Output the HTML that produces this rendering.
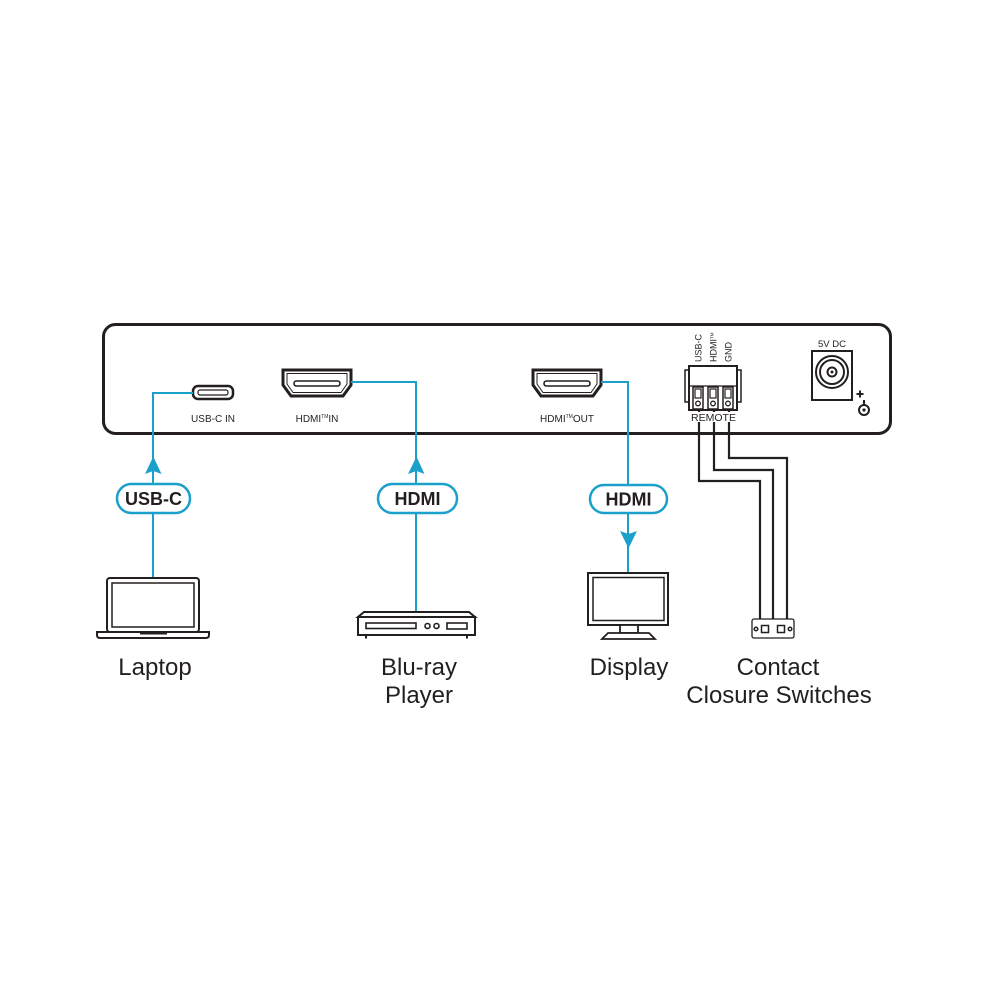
<!DOCTYPE html>
<html>
<head>
<meta charset="utf-8">
<style>
  html,body{margin:0;padding:0;background:#fff;}
  svg{display:block;}
  text{font-family:"Liberation Sans",Arial,sans-serif;}
</style>
</head>
<body>
<svg width="1000" height="1000" viewBox="0 0 1000 1000" xmlns="http://www.w3.org/2000/svg">
  <rect width="1000" height="1000" fill="#fff"/>

  <!-- Device box -->
  <rect x="103.5" y="324.5" width="787" height="109" rx="12" fill="#fff" stroke="#231f20" stroke-width="3"/>

  <!-- Contact closure wires -->
  <g fill="none" stroke="#231f20" stroke-width="2.2">
    <polyline points="699,408 699,481 760,481 760,620"/>
    <polyline points="714,408 714,470 773,470 773,620"/>
    <polyline points="729,408 729,458 787,458 787,620"/>
  </g>

  <!-- USB-C port -->
  <rect x="193" y="386" width="40" height="13" rx="5" fill="#fff" stroke="#231f20" stroke-width="2.5"/>
  <rect x="198" y="390" width="30" height="5" rx="2" fill="none" stroke="#231f20" stroke-width="1.2"/>
  <text x="213" y="422" font-size="10" text-anchor="middle" fill="#231f20">USB-C IN</text>

  <!-- HDMI IN -->
  <g fill="none" stroke="#231f20">
    <path d="M283,370 H351 V385 L343,396 H291 L283,385 Z" stroke-width="3"/>
    <path d="M287,373.5 H347 V384 L341,392.5 H293 L287,384 Z" stroke-width="1"/>
    <rect x="294" y="381" width="46" height="5" rx="2.5" stroke-width="1.6"/>
  </g>
  <text x="317" y="422" font-size="10" text-anchor="middle" fill="#231f20">HDMI<tspan font-size="5" dy="-4">TM</tspan><tspan dy="4">IN</tspan></text>

  <!-- HDMI OUT -->
  <g fill="none" stroke="#231f20" transform="translate(250,0)">
    <path d="M283,370 H351 V385 L343,396 H291 L283,385 Z" stroke-width="3"/>
    <path d="M287,373.5 H347 V384 L341,392.5 H293 L287,384 Z" stroke-width="1"/>
    <rect x="294" y="381" width="46" height="5" rx="2.5" stroke-width="1.6"/>
  </g>
  <text x="567" y="422" font-size="10" text-anchor="middle" fill="#231f20">HDMI<tspan font-size="5" dy="-4">TM</tspan><tspan dy="4">OUT</tspan></text>

  <!-- Terminal block -->
  <g stroke="#231f20" fill="#fff">
    <rect x="685" y="370" width="5" height="32" stroke-width="1.5"/>
    <rect x="736" y="370" width="5" height="32" stroke-width="1.5"/>
    <rect x="689" y="366" width="48" height="44" stroke-width="2"/>
    <line x1="689" y1="386" x2="737" y2="386" stroke-width="1.2"/>
    <rect x="693" y="387" width="10" height="22" stroke-width="1.5"/>
    <rect x="708" y="387" width="10" height="22" stroke-width="1.5"/>
    <rect x="723" y="387" width="10" height="22" stroke-width="1.5"/>
    <rect x="695" y="389" width="6" height="9" stroke-width="1.2"/>
    <rect x="710" y="389" width="6" height="9" stroke-width="1.2"/>
    <rect x="725" y="389" width="6" height="9" stroke-width="1.2"/>
    <circle cx="698" cy="403.5" r="2.3" stroke-width="1.3"/>
    <circle cx="713" cy="403.5" r="2.3" stroke-width="1.3"/>
    <circle cx="728" cy="403.5" r="2.3" stroke-width="1.3"/>
  </g>
  <g font-size="9" fill="#231f20">
    <text transform="translate(701.5,362) rotate(-90)">USB-C</text>
    <text transform="translate(716.5,362) rotate(-90)">HDMI<tspan font-size="4.5" dy="-3">TM</tspan></text>
    <text transform="translate(731.5,362) rotate(-90)">GND</text>
  </g>
  <rect x="692" y="412" width="44" height="10" fill="#fff"/>
  <text x="713.5" y="421" font-size="10.5" text-anchor="middle" fill="#231f20">REMOTE</text>

  <!-- Power jack -->
  <text x="832" y="347" font-size="9.5" text-anchor="middle" fill="#231f20">5V DC</text>
  <rect x="812" y="351" width="40" height="49" fill="#fff" stroke="#231f20" stroke-width="2"/>
  <g fill="none" stroke="#231f20" stroke-width="2">
    <circle cx="832" cy="372" r="16"/>
    <circle cx="832" cy="372" r="12"/>
    <circle cx="832" cy="372" r="4.5"/>
  </g>
  <circle cx="832" cy="372" r="1.5" fill="#231f20"/>
  <g stroke="#231f20" stroke-width="2" fill="none">
    <line x1="856.5" y1="394" x2="863.5" y2="394"/>
    <line x1="860" y1="390.5" x2="860" y2="397.5"/>
    <line x1="864" y1="400" x2="864" y2="405"/>
    <circle cx="864" cy="410" r="5"/>
  </g>
  <circle cx="864" cy="410" r="1.6" fill="#231f20"/>

  <!-- Blue connections -->
  <g fill="none" stroke="#1ba0cc" stroke-width="2">
    <polyline points="193,393 153,393 153,580"/>
    <polyline points="351,382 416,382 416,612"/>
    <polyline points="601,382 628,382 628,573"/>
  </g>
  <g fill="#1ba0cc">
    <path d="M153.3,456.5 L161.5,474 L153.3,471 L145,474 Z"/>
    <path d="M416.5,456.5 L424.5,474 L416.5,471 L408,474 Z"/>
    <path d="M628.5,548.5 L637,531 L628.5,534 L620,531 Z"/>
  </g>

  <!-- Pills -->
  <g fill="#fff" stroke="#1ba0cc" stroke-width="2.5">
    <rect x="117" y="484" width="73" height="29" rx="14.5"/>
    <rect x="378" y="484" width="79" height="29" rx="14.5"/>
    <rect x="590" y="485" width="77" height="28" rx="14"/>
  </g>
  <g font-size="18" font-weight="bold" fill="#231f20" text-anchor="middle">
    <text x="153.5" y="505">USB-C</text>
    <text x="417.5" y="505">HDMI</text>
    <text x="628.5" y="505.5">HDMI</text>
  </g>

  <!-- Laptop -->
  <g fill="#fff" stroke="#231f20">
    <rect x="107" y="578" width="92" height="54" rx="3" stroke-width="2"/>
    <rect x="112" y="583" width="82" height="44" stroke-width="1.5"/>
    <path d="M97,632 H209 V635 Q209,638 206,638 H100 Q97,638 97,635 Z" stroke-width="2"/>
  </g>
  <line x1="140" y1="633.5" x2="167" y2="633.5" stroke="#231f20" stroke-width="2"/>

  <!-- Blu-ray -->
  <g fill="#fff" stroke="#231f20" stroke-width="2">
    <path d="M364,612 H469 L475,617 H358 Z"/>
    <rect x="358" y="617" width="117" height="18"/>
    <line x1="366" y1="635" x2="366" y2="638.5"/>
    <line x1="467" y1="635" x2="467" y2="638.5"/>
  </g>
  <g fill="none" stroke="#231f20" stroke-width="1.6">
    <rect x="366" y="623" width="50" height="5.5"/>
    <circle cx="427.5" cy="626" r="2.5"/>
    <circle cx="436.5" cy="626" r="2.5"/>
    <rect x="447" y="623" width="20" height="6"/>
  </g>

  <!-- Display -->
  <g fill="#fff" stroke="#231f20">
    <rect x="588" y="573" width="80" height="52" stroke-width="2"/>
    <rect x="593" y="577.5" width="71" height="43" stroke-width="1.5"/>
    <rect x="620" y="625" width="18" height="8" stroke-width="1.8"/>
    <path d="M608,633 H649 L655,639 H602 Z" stroke-width="1.8"/>
  </g>

  <!-- Switch box -->
  <rect x="752" y="619" width="42" height="19" rx="2" fill="#fff" stroke="#231f20" stroke-width="1.3"/>
  <g fill="none" stroke="#231f20" stroke-width="1.5">
    <circle cx="756" cy="629" r="1.8"/>
    <rect x="761.5" y="625.5" width="7" height="7"/>
    <rect x="777.5" y="625.5" width="7" height="7"/>
    <circle cx="790" cy="629" r="1.8"/>
  </g>

  <!-- Labels -->
  <g font-size="24" fill="#231f20" text-anchor="middle">
    <text x="155" y="675">Laptop</text>
    <text x="419" y="675">Blu-ray</text>
    <text x="419" y="703">Player</text>
    <text x="629" y="675">Display</text>
    <text x="778" y="675">Contact</text>
    <text x="779" y="703">Closure Switches</text>
  </g>
</svg>
</body>
</html>
